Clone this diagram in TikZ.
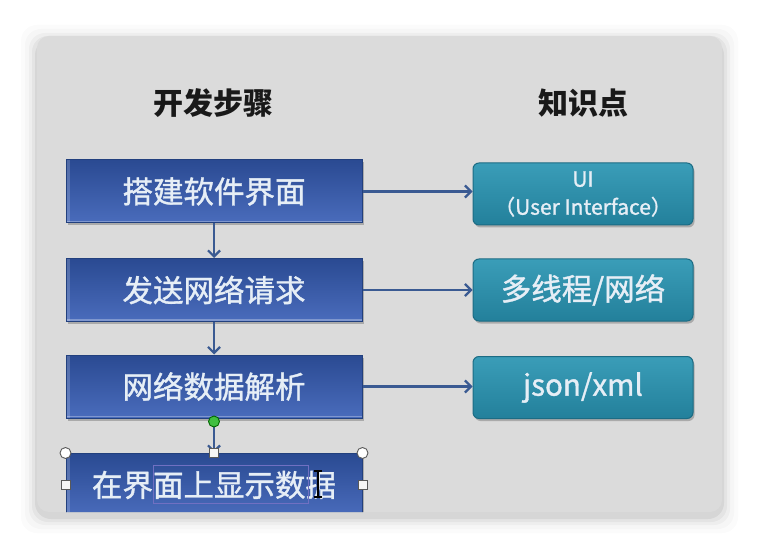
\documentclass[tikz,border=0pt]{standalone}
\usepackage{fontspec}
\setmainfont{Noto Sans CJK SC}
\newfontfamily\boxfont{Noto Sans CJK SC}[FakeBold=1.2]
\usetikzlibrary{arrows.meta,calc}
\definecolor{cardgray}{HTML}{DBDBDB}
\definecolor{navytop}{HTML}{2A4A92}
\definecolor{navybot}{HTML}{4A6CBC}
\definecolor{navyedge}{HTML}{22407E}
\definecolor{tealtop}{HTML}{3A9DB8}
\definecolor{tealbot}{HTML}{23809B}
\definecolor{tealedge}{HTML}{1C6C84}
\definecolor{arrowblue}{HTML}{3A5A92}
\definecolor{boxtext}{HTML}{E6EEF6}
\tikzset{
  boxshadow/.style={preaction={fill=black, opacity=0.22, transform canvas={xshift=1.5pt,yshift=-2.5pt}}},
  stepbox/.style={rectangle, draw=navyedge, line width=1pt, boxshadow,
    top color=navytop, bottom color=navybot, text=boxtext,
    minimum width=296pt, minimum height=63pt, inner sep=0pt,
    font=\boxfont\fontsize{30.5}{33}\selectfont,
    path picture={\draw[white,opacity=0.3,line width=1.5pt]
      ([yshift=1.5pt]path picture bounding box.south west) --
      ([yshift=1.5pt]path picture bounding box.south east);
      \draw[white,opacity=0.18,line width=3pt]
      ([xshift=2pt]path picture bounding box.south west) --
      ([xshift=2pt]path picture bounding box.north west);}},
  knowbox/.style={rectangle, rounded corners=6pt, draw=tealedge, line width=1pt, boxshadow,
    top color=tealtop, bottom color=tealbot, text=boxtext,
    minimum width=220pt, minimum height=62pt, inner sep=0pt,
    font=\boxfont\fontsize{30.5}{33}\selectfont},
  header/.style={font=\fontsize{30}{33}\selectfont\bfseries, text=black!90},
  flow/.style={draw=arrowblue, line width=2.2pt,
    -{Straight Barb[length=6pt,width=12pt,line width=2.2pt]}},
  roundhandle/.style={circle, draw=gray!70!black, fill=white, line width=0.9pt,
    minimum size=11pt, inner sep=0pt},
  squarehandle/.style={rectangle, draw=gray!70!black, fill=white!92!gray, line width=0.9pt,
    minimum size=9pt, inner sep=0pt},
}
\begin{document}
\begin{tikzpicture}[x=1pt,y=-1pt]
\useasboundingbox (0,0) rectangle (758,548);
\fill[white] (0,0) rectangle (758,548);
% soft shadow of the card
\foreach \d/\o in {16/0.015,12/0.02,8/0.03,5/0.04,2/0.06}{
  \fill[black,opacity=\o,rounded corners=16pt] (37-\d,36-\d+5) rectangle (722+\d,512+\d+5);
}
\fill[cardgray,rounded corners=12pt] (37,36) rectangle (722,512);

\node[header] (h1) at (213,103) {开发步骤};
\node[header] (h2) at (583,103) {知识点};

\begin{scope}
\clip[rounded corners=12pt] (37,36) rectangle (722,512);
\node[stepbox] (b1) at (214,191.5) {搭建软件界面};
\node[stepbox] (b2) at (214,290) {发送网络请求};
\node[stepbox] (b3) at (214,386.5) {网络数据解析};
\node[stepbox] (b4) at (214,485) {在界面上显示数据};

\node[knowbox, align=center, font=\boxfont\fontsize{21}{28}\selectfont] (k1) at (583,194) {UI\\（User Interface）};
\node[knowbox] (k2) at (583,290) {多线程/网络};
\node[knowbox, font=\boxfont\fontsize{29.5}{33}\selectfont] (k3) at (583,387.5) {json/xml};

\draw[flow] (b1.east) -- (b1.east -| k1.west);
\draw[flow] (b2.east) -- (b2.east -| k2.west);
\draw[flow] (b3.east) -- (b3.east -| k3.west);
\draw[flow] (b1.south) -- (b2.north);
\draw[flow] (b2.south) -- (b3.north);
\draw[flow] ([yshift=-3pt]b3.south) -- (b4.north);

% selection handles of the last box
\node[circle, draw=green!40!black, fill=green!50!gray, line width=0.9pt,
  minimum size=11pt, inner sep=0pt] (g) at ([yshift=-3pt]b3.south) {};
\node[roundhandle] (c1) at (b4.north west) {};
\node[roundhandle] (c2) at (b4.north east) {};
\node[squarehandle] (s1) at (b4.north) {};
\node[squarehandle] (s2) at (b4.west) {};
\node[squarehandle] (s3) at (b4.east) {};
% text selection frame and cursor
\draw[gray!60!blue!80!white, line width=0.8pt] (153,465) rectangle (308,503);
\draw[black, line width=1.2pt] (318,471) -- (318,497)
  (314,471) -- (322,471) (314,497) -- (322,497);
\end{scope}
\end{tikzpicture}
\end{document}
